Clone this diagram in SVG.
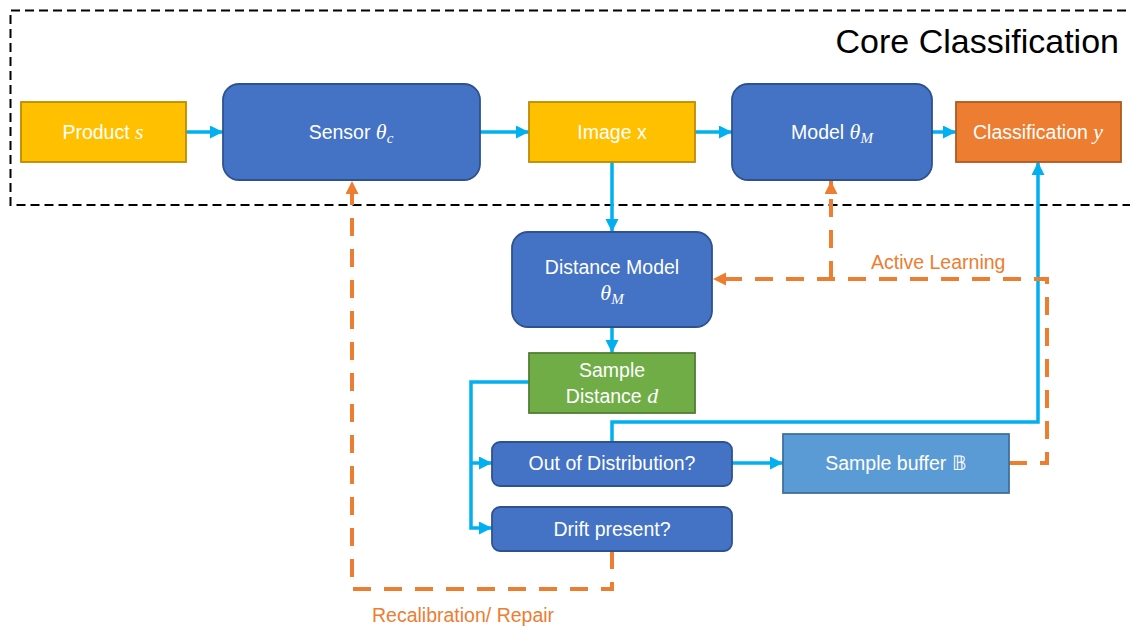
<svg xmlns="http://www.w3.org/2000/svg" width="1130" height="626" viewBox="0 0 1130 626">
  <style>
    .lbl { font-family: "Liberation Sans", Arial, sans-serif; font-size: 19.5px; fill: #ffffff; text-anchor: middle; }
    .m { font-family: "Liberation Serif", "Times New Roman", serif; font-style: italic; font-size: 22px; }
    .sub { font-family: "Liberation Serif", "Times New Roman", serif; font-style: italic; font-size: 15px; }
    .yellow { fill: #FFC000; stroke: #BC8C00; stroke-width: 1.8; }
    .blue { fill: #4472C4; stroke: #2F528F; stroke-width: 1.8; }
    .orange { fill: #ED7D31; stroke: #AE5A21; stroke-width: 1.8; }
    .green { fill: #70AD47; stroke: #507E32; stroke-width: 1.8; }
    .lightblue { fill: #5B9BD5; stroke: #41719C; stroke-width: 1.8; }
    .flow { fill: none; stroke: #00B0F0; stroke-width: 3.5; }
    .feedback { fill: none; stroke: #ED7D31; stroke-width: 4; stroke-dasharray: 18 13; }
    .note { font-family: "Liberation Sans", Arial, sans-serif; font-size: 19.5px; fill: #ED7D31; }
  </style>
  <defs>
    <marker id="arrowBlue" markerUnits="userSpaceOnUse" markerWidth="14" markerHeight="14" refX="13" refY="6.5" orient="auto">
      <path d="M0,0 L13,6.5 L0,13 Z" fill="#00B0F0"/>
    </marker>
    <marker id="arrowOrange" markerUnits="userSpaceOnUse" markerWidth="14" markerHeight="14" refX="13" refY="6.5" orient="auto">
      <path d="M0,0 L13,6.5 L0,13 Z" fill="#ED7D31"/>
    </marker>
  </defs>

  <rect width="1130" height="626" fill="#ffffff"/>

  <!-- core classification frame -->
  <g id="core-frame">
    <path d="M1140,10.5 H10.5 V205 H1140" fill="none" stroke="#000000" stroke-width="2" stroke-dasharray="9 5"/>
    <text x="1119" y="53" font-family="Liberation Sans, Arial, sans-serif" font-size="34" text-anchor="end" fill="#000000">Core Classification</text>
  </g>

  <!-- connectors -->
  <g id="connectors">
    <path class="flow" d="M186,132 H223" marker-end="url(#arrowBlue)"/>
    <path class="flow" d="M480,132 H529" marker-end="url(#arrowBlue)"/>
    <path class="flow" d="M695,132 H732" marker-end="url(#arrowBlue)"/>
    <path class="flow" d="M932,132 H956" marker-end="url(#arrowBlue)"/>
    <path class="flow" d="M612,162 V232" marker-end="url(#arrowBlue)"/>
    <path class="flow" d="M612,327 V353" marker-end="url(#arrowBlue)"/>
    <path class="flow" d="M529,382 H471 V528 H492" marker-end="url(#arrowBlue)"/>
    <path class="flow" d="M471,463 H492" marker-end="url(#arrowBlue)"/>
    <path class="flow" d="M732,463 H783" marker-end="url(#arrowBlue)"/>
    <path class="flow" d="M612,442 V422 H1038 V162" marker-end="url(#arrowBlue)"/>

    <path class="feedback" d="M612,551 V589 H352 V181" marker-end="url(#arrowOrange)"/>
    <path class="feedback" d="M1009,463 H1047 V279 H713" marker-end="url(#arrowOrange)"/>
    <path class="feedback" d="M831,279 V181" marker-end="url(#arrowOrange)"/>
    <text class="note" x="871" y="269">Active Learning</text>
    <text class="note" x="372" y="622">Recalibration/ Repair</text>
  </g>

  <g id="product">
    <rect class="yellow" x="21" y="102" width="165" height="60"/>
    <text class="lbl" x="103" y="139">Product <tspan class="m">s</tspan></text>
  </g>

  <g id="sensor">
    <rect class="blue" x="223" y="84" width="257" height="96" rx="16"/>
    <text class="lbl" x="351" y="139">Sensor <tspan class="m">θ</tspan><tspan class="sub" dy="4">c</tspan></text>
  </g>

  <g id="image">
    <rect class="yellow" x="529" y="102" width="166" height="60"/>
    <text class="lbl" x="612" y="139">Image x</text>
  </g>

  <g id="model">
    <rect class="blue" x="732" y="84" width="200" height="96" rx="16"/>
    <text class="lbl" x="832" y="139">Model <tspan class="m">θ</tspan><tspan class="sub" dy="4">M</tspan></text>
  </g>

  <g id="classification">
    <rect class="orange" x="956" y="102" width="165" height="60"/>
    <text class="lbl" x="1038" y="139">Classification <tspan class="m">y</tspan></text>
  </g>

  <g id="distance-model">
    <rect class="blue" x="512" y="232" width="200" height="95" rx="16"/>
    <text class="lbl" x="612" y="274">Distance Model</text>
    <text class="lbl" x="612" y="300"><tspan class="m">θ</tspan><tspan class="sub" dy="4">M</tspan></text>
  </g>

  <g id="sample-distance">
    <rect class="green" x="529" y="353" width="166" height="60"/>
    <text class="lbl" x="612" y="377">Sample</text>
    <text class="lbl" x="612" y="403">Distance <tspan class="m">d</tspan></text>
  </g>

  <g id="out-of-distribution">
    <rect class="blue" x="492" y="442" width="240" height="44" rx="8"/>
    <text class="lbl" x="612" y="470">Out of Distribution?</text>
  </g>

  <g id="drift-present">
    <rect class="blue" x="492" y="507" width="240" height="44" rx="8"/>
    <text class="lbl" x="612" y="536">Drift present?</text>
  </g>

  <g id="sample-buffer">
    <rect class="lightblue" x="783" y="434" width="226" height="59"/>
    <text class="lbl" x="896" y="470">Sample buffer 𝔹</text>
  </g>
</svg>
